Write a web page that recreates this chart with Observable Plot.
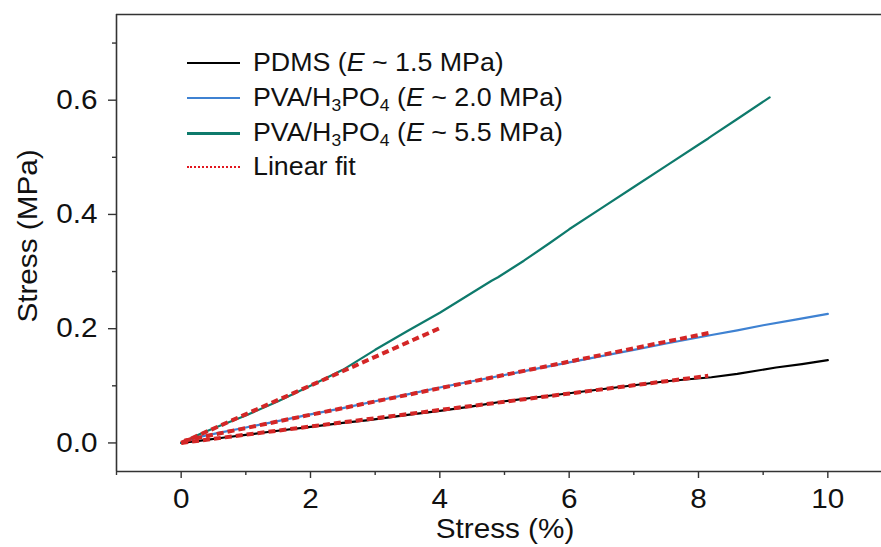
<!DOCTYPE html>
<html>
<head>
<meta charset="utf-8">
<script src="https://cdn.jsdelivr.net/npm/d3@7"></script>
<script src="https://cdn.jsdelivr.net/npm/@observablehq/plot@0.6"></script>
<style>
  html, body { margin: 0; padding: 0; background: #fff; }
  #wrap { position: relative; width: 881px; height: 547px; overflow: hidden; font-family: "Liberation Sans", Arial, sans-serif; }
  .leg { position: absolute; left: 0; top: 0; }
  .row { position: absolute; left: 187px; height: 0; }
  .sample { position: absolute; left: 0; width: 53px; height: 0; }
  .lab { position: absolute; left: 66px; top: -16px; font-size: 26px; line-height: 30px; white-space: nowrap; color: #111; transform: scaleX(1.03); transform-origin: left center; }
  .lab sub { font-size: 17px; vertical-align: -5px; line-height: 0; }
</style>
</head>
<body>
<div id="wrap"></div>
<script>
// ---- data ----
const seriesNames = ["PDMS (E ~ 1.5 MPa)", "PVA/H3PO4 (E ~ 2.0 MPa)", "PVA/H3PO4 (E ~ 5.5 MPa)", "Linear fit"];
const seriesColors = ["#000000", "#3f82d2", "#0e7a6c", "#d42626"];

const strainPDMS = [0, 0.3, 0.7, 1.0, 1.4, 2.0, 2.5, 2.9, 3.5, 4.0, 4.5, 5.0, 5.5, 6.0, 6.5, 7.0, 7.5, 8.2, 8.6, 9.2, 9.6, 10.0];
const stressPDMS = [0, 0.004, 0.010, 0.014, 0.020, 0.028, 0.035, 0.040, 0.049, 0.056, 0.064, 0.073, 0.080, 0.087, 0.094, 0.101, 0.108, 0.115, 0.121, 0.132, 0.138, 0.145];

const strainPVA2 = [0, 0.15, 0.3, 0.6, 1.0, 1.4, 2.0, 2.5, 3.0, 3.5, 4.0, 4.5, 5.0, 5.5, 6.0, 6.5, 7.0, 7.5, 8.2, 8.6, 9.0, 9.5, 10.0];
const stressPVA2 = [0, 0.006, 0.011, 0.018, 0.027, 0.036, 0.050, 0.061, 0.073, 0.085, 0.097, 0.108, 0.119, 0.130, 0.141, 0.152, 0.163, 0.174, 0.189, 0.197, 0.206, 0.216, 0.226];

const strainPVA5 = [0, 0.3, 0.6, 1.0, 1.5, 2.0, 2.5, 3.0, 3.5, 4.0, 4.4, 4.8, 4.9, 5.3, 5.7, 6.0, 6.5, 7.0, 7.5, 8.0, 8.15, 8.2, 8.6, 9.1];
const stressPVA5 = [0, 0.016, 0.030, 0.048, 0.073, 0.100, 0.128, 0.163, 0.196, 0.228, 0.256, 0.284, 0.290, 0.319, 0.350, 0.374, 0.411, 0.448, 0.485, 0.522, 0.533, 0.537, 0.567, 0.605];

// linear fits: start/end points
const fitStrainPDMS = [0, 8.15];
const fitStressPDMS = [0, 0.1175];
const fitStrainPVA2 = [0.05, 8.2];
const fitStressPVA2 = [0.004, 0.1935];
const fitStrainPVA5 = [0, 4.0];
const fitStressPVA5 = [0, 0.201];

const xMajorTicks = [0, 2, 4, 6, 8, 10];
const xMinorTicks = [-1, 1, 3, 5, 7, 9];
const yMajorTicks = [0, 0.2, 0.4, 0.6];
const yMinorTicks = [0.1, 0.3, 0.5, 0.7];
const xDomain = [-1, 10.83];
const yDomain = [-0.05, 0.75];
const xTitle = "Stress (%)";
const yTitle = "Stress (MPa)";

// ---- build tables ----
const toRows = (xs, ys, s) => xs.map((x, i) => ({x, y: ys[i], s}));
const curves = [
  ...toRows(strainPDMS, stressPDMS, seriesNames[0]),
  ...toRows(strainPVA2, stressPVA2, seriesNames[1]),
  ...toRows(strainPVA5, stressPVA5, seriesNames[2])
];
const fits = [
  ...toRows(fitStrainPDMS, fitStressPDMS, "f1"),
  ...toRows(fitStrainPVA2, fitStressPVA2, "f2"),
  ...toRows(fitStrainPVA5, fitStressPVA5, "f3")
];

const frameColor = "#333";
const FS = 27;
const plot = Plot.plot({
  width: 881,
  height: 547,
  marginLeft: 116,
  marginRight: 0,
  marginTop: 14,
  marginBottom: 76,
  style: {fontFamily: "'Liberation Sans', Arial, sans-serif", fontSize: FS + "px", color: "#111", background: "#fff"},
  x: {domain: xDomain},
  y: {domain: yDomain},
  color: {domain: seriesNames.slice(0, 3), range: seriesColors.slice(0, 3)},
  marks: [
    Plot.line(curves, {x: "x", y: "y", z: "s", stroke: "s", strokeWidth: 2.2}),
    Plot.line(fits, {x: "x", y: "y", z: "s", stroke: seriesColors[3], strokeWidth: 4, strokeDasharray: "7,4", strokeLinecap: "butt", strokeLinejoin: "miter"}),
    Plot.ruleX([xDomain[0]], {stroke: frameColor, strokeWidth: 1.6}),
    Plot.ruleY(yDomain, {stroke: frameColor, strokeWidth: 1.6}),
    Plot.axisX(xMajorTicks, {tickSize: 7, tickPadding: 10, tickFormat: d => String(d), label: null, strokeWidth: 1.4, stroke: frameColor, fontSize: FS}),
    Plot.axisX(xMinorTicks, {tickSize: 4, tickFormat: () => "", label: null, strokeWidth: 1.4, stroke: frameColor}),
    Plot.axisY(yMajorTicks, {tickSize: 8, tickPadding: 11, tickFormat: d3.format(".1f"), label: null, strokeWidth: 1.4, stroke: frameColor, fontSize: FS}),
    Plot.axisY(yMinorTicks, {tickSize: 4, tickFormat: () => "", label: null, strokeWidth: 1.4, stroke: frameColor}),
    Plot.text([xTitle], {frameAnchor: "bottom", text: d => d, dy: 57.5, dx: 6, lineAnchor: "middle", textAnchor: "middle", fontSize: FS, fill: "#111"}),
    Plot.text([yTitle], {frameAnchor: "left", text: d => d, dx: -88.5, dy: -7, rotate: -90, lineAnchor: "middle", textAnchor: "middle", fontSize: FS, fill: "#111"})
  ]
});

// horizontal stretch of the text, as in the reference
plot.querySelectorAll("text").forEach(t => {
  const x = +t.getAttribute("x") || 0;
  const tr = t.getAttribute("transform") || "";
  t.setAttribute("transform", `${tr} translate(${x},0) scale(1.1,1) translate(${-x},0)`);
});

const wrap = document.getElementById("wrap");
wrap.appendChild(plot);

// ---- legend (HTML overlay) ----
const legendHTML = [
  "PDMS (<i>E</i> ~ 1.5 MPa)",
  "PVA/H<sub>3</sub>PO<sub>4</sub> (<i>E</i> ~ 2.0 MPa)",
  "PVA/H<sub>3</sub>PO<sub>4</sub> (<i>E</i> ~ 5.5 MPa)",
  "Linear fit"
];
const rowY = [63, 98, 133, 167];
const sampleStyle = [
  `border-top: 2px solid ${seriesColors[0]}; margin-top:-1px`,
  `border-top: 2.5px solid ${seriesColors[1]}; margin-top:-1px`,
  `border-top: 3px solid ${seriesColors[2]}; margin-top:-1.5px`,
  `border-top: 2.5px dotted #e3161e; margin-top:-1px`
];
const leg = document.createElement("div");
leg.className = "leg";
legendHTML.forEach((h, i) => {
  const r = document.createElement("div");
  r.className = "row";
  r.style.top = rowY[i] + "px";
  r.innerHTML = `<div class="sample" style="${sampleStyle[i]}"></div><div class="lab">${h}</div>`;
  leg.appendChild(r);
});
wrap.appendChild(leg);
</script>
</body>
</html>
